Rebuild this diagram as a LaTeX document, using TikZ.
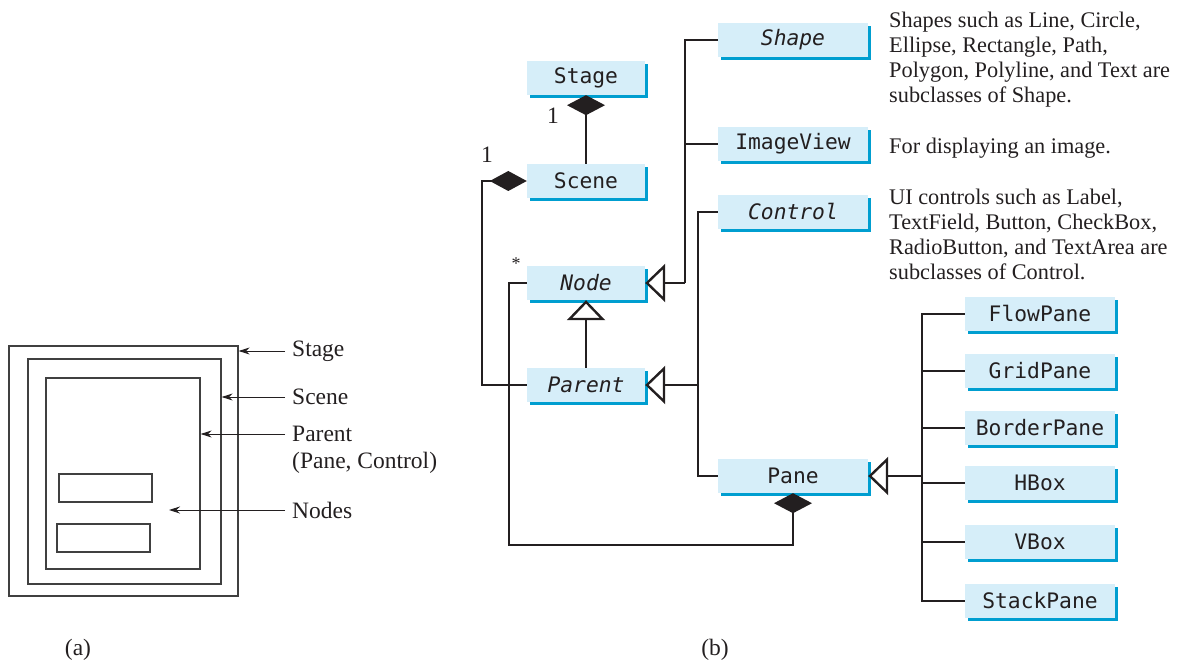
\documentclass[tikz,border=0pt]{standalone}
\usepackage{fontspec}
\setmainfont{Liberation Serif}
\setmonofont{DejaVu Sans Mono}
\usetikzlibrary{arrows.meta,positioning,calc,shadows}
\definecolor{BoxFill}{HTML}{D6EEF9}
\definecolor{BoxShade}{HTML}{009ED0}
\definecolor{Ink}{HTML}{231F20}
\definecolor{Frame}{HTML}{404040}

\begin{document}
\begin{tikzpicture}[x=1pt,y=-1pt]
    \useasboundingbox (0,0) rectangle (1191,663);
    \tikzset{cls/.style={fill=BoxFill,inner sep=0pt,text=Ink,
      font=\ttfamily\fontsize{21.3}{24}\selectfont,
      drop shadow={shadow xshift=3pt,shadow yshift=-3pt,fill=BoxShade,opacity=1}},
      small/.style={cls,minimum width=118,minimum height=34},
      wide/.style={cls,minimum width=150,minimum height=34},
      link/.style={draw=Ink,line width=2.4pt},
      isa/.style={link,-{Triangle[length=20pt,width=38pt,fill=white]}},
      note/.style={align=left,inner sep=0pt,text=Ink,font=\fontsize{22.3}{25}\selectfont},
      tag/.style={inner sep=0pt,text=Ink,font=\fontsize{23.5}{26}\selectfont},
      frame/.style={draw=Frame,line width=1.2pt,inner sep=0pt},
      arr/.style={draw=Ink,line width=1pt,-{Stealth[length=11pt,width=7pt]}}}

    % (a) window nesting
    \node[frame,minimum width=229,minimum height=250] (stagewin) at (123.5,471) {};
    \node[frame,minimum width=193,minimum height=225] (scenewin) at (124.5,471.5) {};
    \node[frame,minimum width=154,minimum height=191] (parentwin) at (123,473.5) {};
    \node[frame,minimum width=93,minimum height=28] (nodea) at (105.5,488) {};
    \node[frame,minimum width=93,minimum height=28] (nodeb) at (103.5,538) {};
    \coordinate (nodetip) at (169,510);

    \node[tag,anchor=west] (lstage) at (292,351) {Stage};
    \node[tag,anchor=west] (lscene) at (292,397) {Scene};
    \node[tag,anchor=west] (lparent) at (292,434) {Parent};
    \node[tag,anchor=west] (lpanectl) at (292,463) {(Pane, Control)};
    \node[tag,anchor=west] (lnodes) at (292,510) {Nodes};
    \draw[arr] ([xshift=-7pt]lstage.west) -- (lstage.west -| stagewin.east);
    \draw[arr] ([xshift=-7pt]lscene.west) -- (lscene.west -| scenewin.east);
    \draw[arr] ([xshift=-7pt]lparent.west) -- (lparent.west -| parentwin.east);
    \draw[arr] ([xshift=-7pt]lnodes.west) -- (nodetip);
    \node[tag] (capa) at (78,650) {(a)};

    % (b) class boxes
    \foreach \x/\y/\id/\txt in {586/78/stage/Stage,586/181/scene/Scene,
                               586/283/nodecls/{\itshape Node},586/385/parent/{\itshape Parent}}{
      \node[small] (\id) at (\x,\y) {\txt};
    }
    \foreach \x/\y/\id/\txt in {793/40/shapecls/{\itshape Shape},793/144/imageview/ImageView,
                               793/212/control/{\itshape Control},793/476/pane/Pane,
                               1040/314/flowpane/FlowPane,1040/371/gridpane/GridPane,
                               1040/428/borderpane/BorderPane,1040/483/hbox/HBox,
                               1040/542/vbox/VBox,1040/601/stackpane/StackPane}{
      \node[wide] (\id) at (\x,\y) {\txt};
    }

    % composition
    \draw[link,{Diamond[length=20pt,width=38pt]}-] (stage.south) -- (scene.north);
    \draw[link,{Diamond[length=37pt,width=20pt]}-] (scene.west) -- ++(-45,0) |- (parent.west);
    \coordinate (loop) at (509,545);
    \draw[link,-{Diamond[length=20pt,width=38pt]}] (nodecls.west) -| (loop) -| (pane.south);
    \node[tag] (m1) at (553,116) {1};
    \node[tag] (m2) at (487,155) {1};
    \node[tag,font=\fontsize{18}{20}\selectfont] (mstar) at (516,264) {*};

    % inheritance
    \draw[isa] (parent.north) -- (nodecls.south);
    \coordinate (nodejoin) at ($(nodecls.east)+(40,0)$);
    \draw[link] (shapecls.west) -| (nodejoin);
    \draw[link] (imageview.west) -- (imageview.west -| nodejoin);
    \draw[isa] (nodejoin) -- (nodecls.east);
    \coordinate (parentjoin) at ($(parent.east)+(53,0)$);
    \draw[link] (control.west) -| (parentjoin) |- (pane.west);
    \draw[isa] (parentjoin) -- (parent.east);
    \coordinate (panejoin) at ($(pane.east)+(54,0)$);
    \draw[link] (flowpane.west) -| (panejoin) |- (stackpane.west);
    \foreach \id in {gridpane,borderpane,hbox,vbox}{
      \draw[link] (\id.west) -- (\id.west -| panejoin);
    }
    \draw[isa] (panejoin) -- (pane.east);

    % notes
    \node[note,anchor=north west] (shapenote) at (889,12) {Shapes such as Line, Circle,\\
      Ellipse, Rectangle, Path,\\Polygon, Polyline, and Text are\\subclasses of Shape.};
    \node[note,anchor=base west] (imagenote) at (889,154) {For displaying an image.};
    \node[note,anchor=north west] (controlnote) at (889,189) {UI controls such as Label,\\
      TextField, Button, CheckBox,\\RadioButton, and TextArea are\\subclasses of Control.};
    \node[tag] (capb) at (715,650) {(b)};
  \end{tikzpicture}
\end{document}
